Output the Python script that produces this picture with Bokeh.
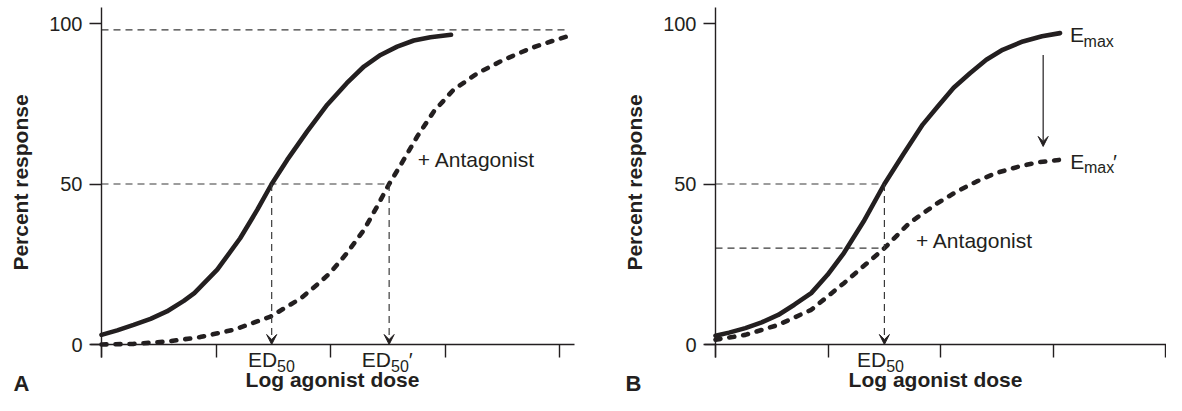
from bokeh.plotting import figure
from bokeh.models import Range1d, FixedTicker, Label, Arrow, VeeHead
from bokeh.layouts import row
from bokeh.embed import file_html
from bokeh.resources import INLINE

# ---------------- data ----------------
x_ticks = [0, 1, 2, 3, 4]
y_ticks = [0, 50, 100]

# Panel A: agonist alone (solid) and agonist + competitive antagonist (dashed)
a_agonist_x = [0.0, 0.137, 0.28, 0.428, 0.57, 0.718, 0.81, 1.01, 1.21, 1.36, 1.485, 1.62, 1.795, 1.97, 2.14, 2.29, 2.435, 2.58, 2.725, 2.87, 3.05]
a_agonist_y = [3.0, 4.4, 6.1, 8.0, 10.3, 13.6, 16.0, 23.3, 33.1, 42.0, 50.0, 57.5, 66.4, 74.7, 81.4, 86.6, 90.2, 92.8, 94.7, 95.7, 96.5]
a_antag_x = [0.0, 0.28, 0.57, 0.86, 1.155, 1.475, 1.74, 1.91, 2.0, 2.14, 2.29, 2.405, 2.51, 2.62, 2.755, 2.9, 3.07, 3.28, 3.51, 3.745, 3.92, 4.065]
a_antag_y = [0.0, 0.2, 0.9, 2.3, 4.6, 8.7, 14.4, 19.5, 22.5, 28.4, 35.7, 43.0, 50.0, 56.5, 64.8, 72.6, 79.3, 84.5, 88.7, 92.3, 94.4, 96.0]
a_ed50 = 1.485
a_ed50_prime = 2.51
a_top_level = 98.0
a_top_end = 4.07

# Panel B: agonist alone (solid) and agonist + noncompetitive antagonist (dashed)
b_agonist_x = [0.0, 0.12, 0.265, 0.41, 0.557, 0.70, 0.85, 0.995, 1.14, 1.315, 1.50, 1.665, 1.84, 1.97, 2.115, 2.26, 2.405, 2.55, 2.73, 2.9, 3.06]
b_agonist_y = [2.7, 3.7, 5.1, 6.9, 9.2, 12.4, 16.0, 21.7, 28.5, 38.3, 50.0, 59.1, 68.5, 74.0, 80.0, 84.5, 88.7, 91.8, 94.4, 96.0, 97.0]
b_antag_x = [0.0, 0.265, 0.557, 0.85, 1.14, 1.345, 1.50, 1.72, 1.97, 2.145, 2.32, 2.49, 2.7, 2.87, 3.05]
b_antag_y = [1.5, 3.0, 6.1, 10.8, 19.1, 25.3, 30.0, 37.8, 44.0, 47.7, 50.8, 53.4, 55.5, 56.8, 57.5]
b_ed50 = 1.50
b_antag_at_ed50 = 30.0
b_drop_x = 2.91
b_drop_from = 90.2
b_drop_to = 61.7

# ---------------- style ----------------
INK = "#231f20"
GUIDE = "#3a3a3a"
FONT = "Liberation Sans"
H = 395
Y0_PX = 344.0          # pixel row of y = 0
Y_PX_PER_UNIT = 3.21


def make_fig(width, x0_px, px_per_unit, x_axis_end):
    x_start = -x0_px / px_per_unit
    x_end = (width - x0_px) / px_per_unit
    y_end = Y0_PX / Y_PX_PER_UNIT
    y_start = -(H - Y0_PX) / Y_PX_PER_UNIT
    p = figure(width=width, height=H, output_backend="svg", toolbar_location=None,
               x_range=Range1d(x_start, x_end), y_range=Range1d(y_start, y_end),
               min_border_left=0, min_border_right=0, min_border_top=0, min_border_bottom=0,
               x_axis_label="Log agonist dose", y_axis_label="Percent response")
    p.grid.visible = False
    p.outline_line_color = None
    p.background_fill_color = "white"
    p.border_fill_color = "white"
    xa = p.xaxis[0]
    ya = p.yaxis[0]
    xa.fixed_location = 0
    ya.fixed_location = 0
    xa.bounds = (-11 / px_per_unit, min(x_axis_end, x_end))
    ya.bounds = (-13 / Y_PX_PER_UNIT, (Y0_PX - 7) / Y_PX_PER_UNIT)
    xa.ticker = FixedTicker(ticks=x_ticks)
    ya.ticker = FixedTicker(ticks=y_ticks)
    for ax in (xa, ya):
        ax.axis_line_color = INK
        ax.axis_line_width = 1.4
        ax.major_tick_line_color = INK
        ax.major_tick_line_width = 1.4
        ax.minor_tick_line_color = None
        ax.major_tick_in = 0
        ax.axis_label_text_font = FONT
        ax.axis_label_text_font_style = "bold"
        ax.axis_label_text_font_size = "21px"
        ax.axis_label_text_color = INK
    xa.major_tick_out = 13
    xa.major_label_text_font_size = "1px"
    xa.major_label_text_alpha = 0
    xa.major_label_standoff = 0
    xa.axis_label_standoff = 10
    ya.major_tick_out = 12
    ya.major_label_standoff = 7
    ya.major_label_text_font = FONT
    ya.major_label_text_font_size = "20px"
    ya.major_label_text_color = INK
    ya.axis_label_standoff = 14
    return p


def txt(p, x, y, text, size, dx=0, dy=0, bold=False, align="left"):
    # dy is the wanted baseline offset in pixels; Bokeh draws the alphabetic
    # baseline about 0.28 em lower, so compensate for it here
    p.add_layout(Label(x=x, y=y, x_offset=dx, y_offset=dy + 0.28 * size, text=text,
                       text_font=FONT, text_font_size=f"{size}px",
                       text_font_style="bold" if bold else "normal",
                       text_color=INK, text_align=align, text_baseline="alphabetic"))


def guide_arrow(p, x, y0, y1, dashed=True):
    p.add_layout(Arrow(end=VeeHead(size=10, line_color=INK, fill_color=INK, line_width=1),
                       x_start=x, y_start=y0, x_end=x, y_end=y1,
                       line_color=GUIDE if dashed else INK, line_width=1.2,
                       line_dash="7 5" if dashed else "solid"))


# ---------------- panel A ----------------
pA = make_fig(614, 101, 114.6, 4.127)
pA.segment(x0=[0, 0], y0=[a_top_level, 50], x1=[a_top_end, a_ed50_prime], y1=[a_top_level, 50],
           line_color=GUIDE, line_width=1.2, line_dash="7 5")
guide_arrow(pA, a_ed50, 50, 0)
guide_arrow(pA, a_ed50_prime, 50, 0)
pA.line(a_agonist_x, a_agonist_y, line_color=INK, line_width=4.6, line_join="round", line_cap="round")
pA.line(a_antag_x, a_antag_y, line_color=INK, line_width=4.6, line_dash="5 9", line_cap="round")
txt(pA, 2.76, 55.8, "+ Antagonist", 21)
txt(pA, a_ed50, 0, "ED", 21, dx=-23.8, dy=-21)
txt(pA, a_ed50, 0, "50", 16, dx=5.4, dy=-26)
txt(pA, a_ed50_prime, 0, "ED", 21, dx=-27.3, dy=-21)
txt(pA, a_ed50_prime, 0, "50", 16, dx=1.9, dy=-26)
txt(pA, a_ed50_prime, 0, "\u2032", 21, dx=19.5, dy=-21)
txt(pA, 0, 0, "A", 22, dx=-88, dy=-45, bold=True)

# ---------------- panel B ----------------
pB = make_fig(552, 101, 112.6, 10)
pB.segment(x0=[0, 0], y0=[50, b_antag_at_ed50], x1=[b_ed50, b_ed50], y1=[50, b_antag_at_ed50],
           line_color=GUIDE, line_width=1.2, line_dash="7 5")
guide_arrow(pB, b_ed50, 50, 0)
guide_arrow(pB, b_drop_x, b_drop_from, b_drop_to, dashed=False)
pB.line(b_agonist_x, b_agonist_y, line_color=INK, line_width=4.6, line_join="round", line_cap="round")
pB.line(b_antag_x, b_antag_y, line_color=INK, line_width=4.6, line_dash="5 9", line_cap="round")
txt(pB, 1.78, 30.5, "+ Antagonist", 21)
txt(pB, b_ed50, 0, "ED", 21, dx=-27.4, dy=-21)
txt(pB, b_ed50, 0, "50", 16, dx=1.8, dy=-26)
txt(pB, b_agonist_x[-1], b_agonist_y[-1], "E", 21, dx=10, dy=-7.5)
txt(pB, b_agonist_x[-1], b_agonist_y[-1], "max", 16, dx=23.5, dy=-12.5)
txt(pB, b_antag_x[-1], b_antag_y[-1], "E", 21, dx=11.4, dy=-7.5)
txt(pB, b_antag_x[-1], b_antag_y[-1], "max", 16, dx=25, dy=-12)
txt(pB, b_antag_x[-1], b_antag_y[-1], "\u2032", 21, dx=54, dy=-7.5)
txt(pB, 0, 0, "B", 22, dx=-90, dy=-45, bold=True)

layout = row(pA, pB)
open("out.html", "w").write(file_html(layout, INLINE))
